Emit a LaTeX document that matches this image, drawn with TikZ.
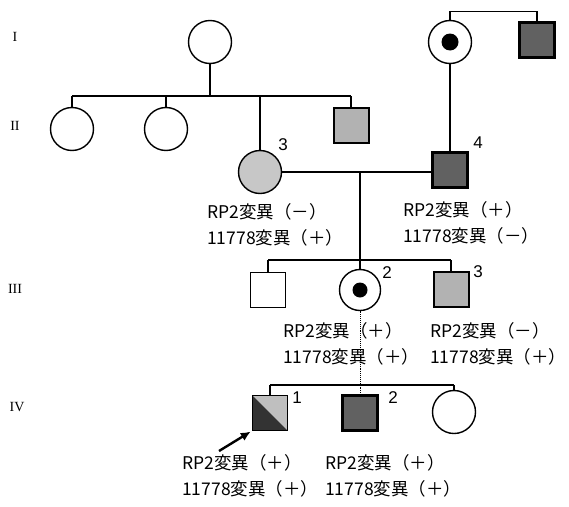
\documentclass[tikz,border=0pt]{standalone}
\usepackage{fontspec}
\setmainfont{Liberation Serif}
\newfontfamily\jp{Noto Sans CJK JP}
\newfontfamily\numsans{Liberation Sans}
\usetikzlibrary{arrows.meta}
\begin{document}
\begin{tikzpicture}[x=1pt,y=-1pt,
  ind/.style={draw=black, line width=1.4pt, inner sep=0pt, outer sep=0pt},
  fem/.style={ind, circle, minimum size=43pt},
  mal/.style={ind, rectangle, minimum size=35pt},
  lightfill/.style={fill=black!22},
  midfill/.style={fill=black!30, line width=2pt},
  darkfill/.style={fill=black!62, line width=3.2pt},
  cdot/.style={circle, fill=black, draw=none, inner sep=0pt, minimum size=17pt},
  conn/.style={line width=1.4pt},
  thinconn/.style={line width=0.9pt, densely dotted},
  lab/.style={font=\jp\fontsize{17.5}{26}\selectfont, align=left, anchor=west, inner sep=0pt},
  num/.style={font=\numsans\fontsize{17}{17}\selectfont, inner sep=0pt},
  gen/.style={font=\fontsize{14}{14}\selectfont, inner sep=0pt}]
\useasboundingbox (0,0) rectangle (569,506);

% generation labels
\node[gen] (gI) at (15,37) {I};
\node[gen] (gII) at (15,126) {II};
\node[gen] (gIII) at (15,289) {III};
\node[gen] (gIV) at (17,407) {IV};

% generation I
\node[fem] (i1) at (210,42) {};
\node[fem] (i2) at (450,42) {};
\node[cdot] (i2d) at (i2) {};
\node[mal, darkfill] (i3) at (537,40) {};
\draw[conn] (i2.north) -- ++(0,-9) -| (i3.north);

% generation II
\coordinate (s2l) at (72,96);
\coordinate (s2r) at (351,96);
\draw[conn] (s2l) -- (s2r);
\draw[conn] (i1.south) -- (i1.south |- s2l);
\node[fem] (ii1) at (72,129) {};
\node[fem] (ii2) at (166,129) {};
\node[fem, lightfill] (ii3) at (260,172) {};
\node[mal, midfill] (ii5) at (351,125) {};
\node[mal, darkfill] (ii4) at (450,170) {};
\foreach \n in {ii1,ii2,ii3,ii5} \draw[conn] (\n.north) -- (\n.north |- s2l);
\draw[conn] (i2.south) -- (ii4.north);
\draw[conn] (ii3.east) -- (ii3.east -| ii4.west);
\node[num] (n3a) at (283,145) {3};
\node[num] (n4a) at (478,143) {4};
\coordinate (m2) at (360,172);
\coordinate (s3l) at (268,260);
\coordinate (s3r) at (451,260);
\draw[conn] (m2) -- (m2 |- s3l);
\node[lab] (l3) at (207,225) {RP2変異（－）\\11778変異（＋）};
\node[lab] (l4) at (403,223) {RP2変異（＋）\\11778変異（－）};

% generation III
\draw[conn] (s3l) -- (s3r);
\node[mal] (iii1) at (268,290) {};
\node[fem, minimum size=41pt] (iii2) at (360,290) {};
\node[cdot, minimum size=15pt] (iii2d) at (iii2) {};
\node[mal, midfill] (iii3) at (451,289) {};
\foreach \n in {iii1,iii2,iii3} \draw[conn] (\n.north) -- (\n.north |- s3l);
\node[num] (n2b) at (387,273) {2};
\node[num] (n3b) at (478,272) {3};

% generation IV
\coordinate (s4l) at (270,385);
\coordinate (s4r) at (454,385);
\node[mal, fill=black!25,
  path picture={\fill[black!80] (path picture bounding box.north west) -- (path picture bounding box.south west) -- (path picture bounding box.south east) -- cycle;}]
  (iv1) at (270,413) {};
\node[mal, darkfill] (iv2) at (360,413) {};
\node[fem] (iv3) at (454,412) {};
\draw[thinconn] (iii2.south) -- (iv2.north);
\draw[conn] (s4l) -- (s4r);
\foreach \n in {iv1,iv3} \draw[conn] (\n.north) -- (\n.north |- s4l);
\node[num] (n1c) at (297,398) {1};
\node[num] (n2c) at (393,398) {2};
\coordinate (arrtail) at (219,451);
\draw[line width=2.4pt, -{Latex[length=10pt,width=9pt]}, shorten >=2pt] (arrtail) -- (iv1.south west);

\node[lab] (l32) at (283,344) {RP2変異（＋）\\11778変異（＋）};
\node[lab] (l33) at (430,344) {RP2変異（－）\\11778変異（＋）};
\node[lab] (l41) at (182,476) {RP2変異（＋）\\11778変異（＋）};
\node[lab] (l42) at (325,476) {RP2変異（＋）\\11778変異（＋）};
\end{tikzpicture}
\end{document}
